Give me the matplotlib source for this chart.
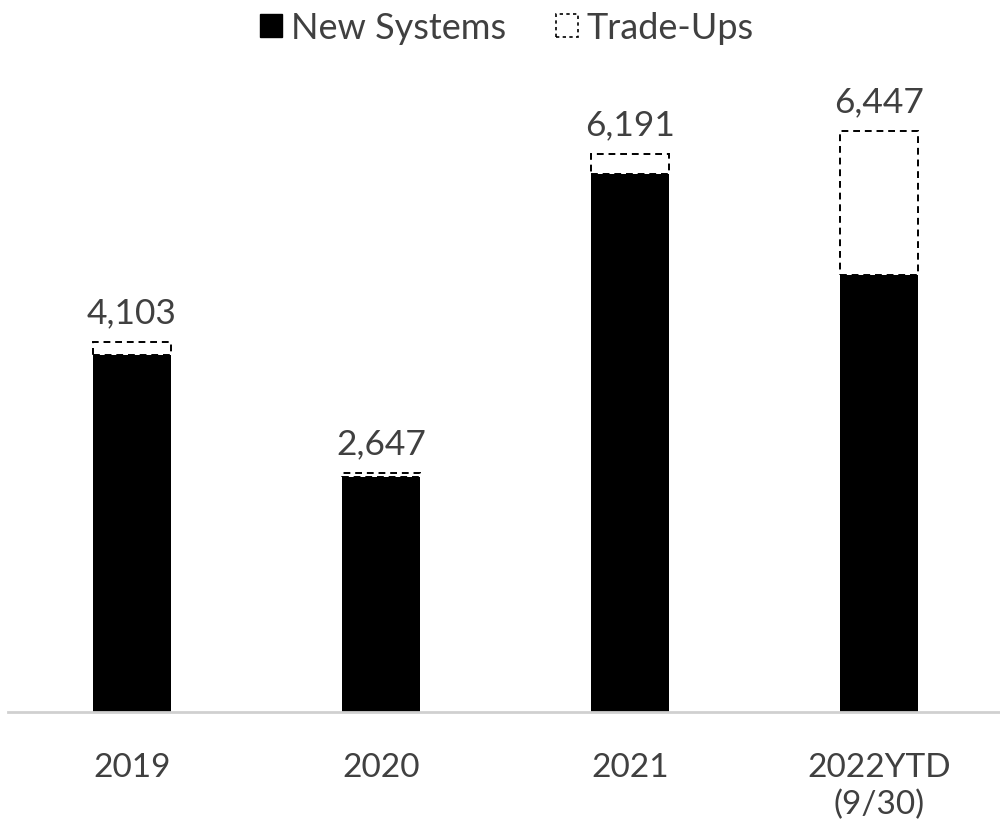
import matplotlib
matplotlib.use("Agg")
import matplotlib.pyplot as plt
from matplotlib.patches import Patch

categories = ["2019", "2020", "2021", "2022YTD\n(9/30)"]
new_systems = [3962, 2608, 5971, 4850]
trade_ups = [141, 39, 220, 1597]
totals = [4103, 2647, 6191, 6447]

plt.rcParams['font.family'] = ['Lato', 'DejaVu Sans']
text_color = "#404040"

fig = plt.figure(figsize=(10, 8.29), dpi=100)
ax = fig.add_axes([0.008, 0.140, 0.992, 0.7877])

x = list(range(len(categories)))
w = 0.313
ax.bar(x, new_systems, width=w, color="black", zorder=2)
ax.bar(x, trade_ups, bottom=new_systems, width=w, facecolor="white",
       edgecolor="black", linestyle=(0, (3.5, 2.5)), linewidth=1.4, zorder=2)

for xi, t in zip(x, totals):
    ax.annotate(f"{t:,}", (xi, t), xytext=(0, 10), textcoords="offset points",
                ha="center", va="bottom", fontsize=25.5, color=text_color)

ax.set_xlim(-0.498, 3.486)
ax.set_ylim(0, 7246)
ax.set_xticks(x)
ax.set_xticklabels(categories, fontsize=24, color=text_color, linespacing=1.25)
ax.tick_params(axis="x", length=0, pad=29)
ax.set_yticks([])
for s in ["top", "right", "left"]:
    ax.spines[s].set_visible(False)
ax.spines["bottom"].set_color("#d0d0d0")
ax.spines["bottom"].set_linewidth(2)

handles = [Patch(facecolor="black", edgecolor="black"),
           Patch(facecolor="white", edgecolor="black", linestyle=(0, (2, 2)), linewidth=1.2)]
fig.legend(handles, ["New Systems", "Trade-Ups"], loc="upper center",
           bbox_to_anchor=(0.507, 1.025), ncol=2, frameon=False, fontsize=26,
           labelcolor=text_color, handlelength=0.6, handleheight=0.6,
           handletextpad=0.25, columnspacing=1.4)

fig.savefig("out.png", dpi=100)
